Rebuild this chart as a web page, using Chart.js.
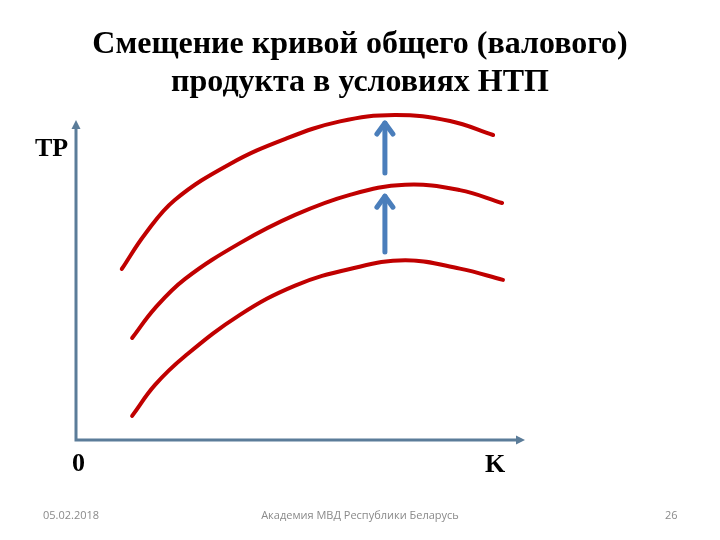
<!DOCTYPE html>
<html>
<head>
<meta charset="utf-8">
<script src="https://cdn.jsdelivr.net/npm/chart.js@4.4.1/dist/chart.umd.min.js"></script>
<style>
body { margin: 0; background: #fff; }
#wrap { position: relative; width: 720px; height: 540px; overflow: hidden; }
#wrap canvas { position: absolute; left: 0; top: 0; }
.txt { position: absolute; white-space: nowrap; }
.title { left: 0; width: 720px; top: 23px; text-align: center; font: bold 32px/38px "Liberation Serif", "Times New Roman", serif; color: #000; }
.lbl { font: bold 26px/26px "Liberation Serif", "Times New Roman", serif; color: #000; }
.foot { top: 509px; font: 11px/11px "Open Sans", sans-serif; color: #8a8a8a; }
</style>
</head>
<body>
<div id="wrap">
  <canvas id="myChart" width="720" height="540"></canvas>
  <div class="txt title">Смещение кривой общего (валового)<br>продукта в условиях НТП</div>
  <div class="txt lbl" style="left:35px;top:135px;">TP</div>
  <div class="txt lbl" style="left:72px;top:450px;">0</div>
  <div class="txt lbl" style="left:485px;top:451px;">K</div>
  <div class="txt foot" style="left:43px;">05.02.2018</div>
  <div class="txt foot" style="left:0;width:720px;text-align:center;">Академия МВД Республики Беларусь</div>
  <div class="txt foot" style="left:665px;">26</div>
</div>
<script>
// capital K (x) and total product TP (y)
var kTop = [1.02, 1.54, 2.20, 3.43, 4.65, 5.88, 7.10, 8.33, 9.29];
var tpTop = [5.03, 6.06, 7.06, 8.12, 8.85, 9.37, 9.56, 9.38, 8.97];

var kMid = [1.25, 1.76, 2.43, 3.65, 4.88, 6.10, 7.33, 8.55, 9.49];
var tpMid = [3.00, 3.88, 4.74, 5.79, 6.62, 7.21, 7.51, 7.35, 6.97];

var kLow = [1.25, 1.76, 2.43, 3.65, 4.88, 6.10, 7.33, 8.55, 9.51];
var tpLow = [0.71, 1.62, 2.47, 3.68, 4.54, 5.03, 5.29, 5.04, 4.71];

// axis arrow ends: [K end, TP end]
var axisEnd = [10.0, 9.41];

// upward shift arrows (at K = shiftK)
var shiftK = [6.88, 6.88];
var shiftFrom = [7.85, 5.53];
var shiftTo = [9.41, 7.26];

function toPoints(xs, ys) {
    return xs.map(function (v, i) { return { x: v, y: ys[i] }; });
}

var axesPlugin = {
    id: 'axes',
    afterDatasetsDraw: function (chart) {
        var ctx = chart.ctx;
        var xs = chart.scales.x, ys = chart.scales.y;
        var x0 = xs.getPixelForValue(0), y0 = ys.getPixelForValue(0);
        var xe = xs.getPixelForValue(axisEnd[0]), ye = ys.getPixelForValue(axisEnd[1]);

        ctx.save();
        // axes
        ctx.strokeStyle = '#5b7c99';
        ctx.fillStyle = '#5b7c99';
        ctx.lineWidth = 3;
        ctx.beginPath();
        ctx.moveTo(x0, ye + 8);
        ctx.lineTo(x0, y0);
        ctx.lineTo(xe - 8, y0);
        ctx.stroke();
        ctx.beginPath();
        ctx.moveTo(x0, ye);
        ctx.lineTo(x0 - 4.5, ye + 9);
        ctx.lineTo(x0 + 4.5, ye + 9);
        ctx.closePath();
        ctx.fill();
        ctx.beginPath();
        ctx.moveTo(xe, y0);
        ctx.lineTo(xe - 9, y0 - 4.5);
        ctx.lineTo(xe - 9, y0 + 4.5);
        ctx.closePath();
        ctx.fill();

        // shift arrows
        ctx.strokeStyle = '#4a7ebb';
        ctx.lineWidth = 5;
        ctx.lineCap = 'round';
        ctx.lineJoin = 'round';
        for (var i = 0; i < shiftK.length; i++) {
            var ax = xs.getPixelForValue(shiftK[i]);
            var ay1 = ys.getPixelForValue(shiftFrom[i]);
            var ay2 = ys.getPixelForValue(shiftTo[i]);
            ctx.beginPath();
            ctx.moveTo(ax, ay1);
            ctx.lineTo(ax, ay2 + 3);
            ctx.stroke();
            ctx.beginPath();
            ctx.moveTo(ax - 8, ay2 + 14);
            ctx.lineTo(ax, ay2 + 3);
            ctx.lineTo(ax + 8, ay2 + 14);
            ctx.stroke();
        }
        ctx.restore();
    }
};

var ctx = document.getElementById('myChart').getContext('2d');
var curveStyle = {
    borderColor: '#c00000',
    borderWidth: 4,
    borderCapStyle: 'round',
    pointRadius: 0,
    fill: false,
    tension: 0.4,
    clip: false
};

var myChart = new Chart(ctx, {
    type: 'line',
    data: {
        datasets: [
            Object.assign({ label: 'TP3', data: toPoints(kTop, tpTop) }, curveStyle),
            Object.assign({ label: 'TP2', data: toPoints(kMid, tpMid) }, curveStyle),
            Object.assign({ label: 'TP1', data: toPoints(kLow, tpLow) }, curveStyle)
        ]
    },
    options: {
        responsive: false,
        animation: false,
        layout: {
            padding: { left: 76, right: 195, top: 100, bottom: 100 }
        },
        scales: {
            x: { type: 'linear', min: 0, max: 10, display: false },
            y: { type: 'linear', min: 0, max: 10, display: false }
        },
        plugins: {
            legend: { display: false },
            tooltip: { enabled: false }
        }
    },
    plugins: [axesPlugin]
});
</script>
</body>
</html>
